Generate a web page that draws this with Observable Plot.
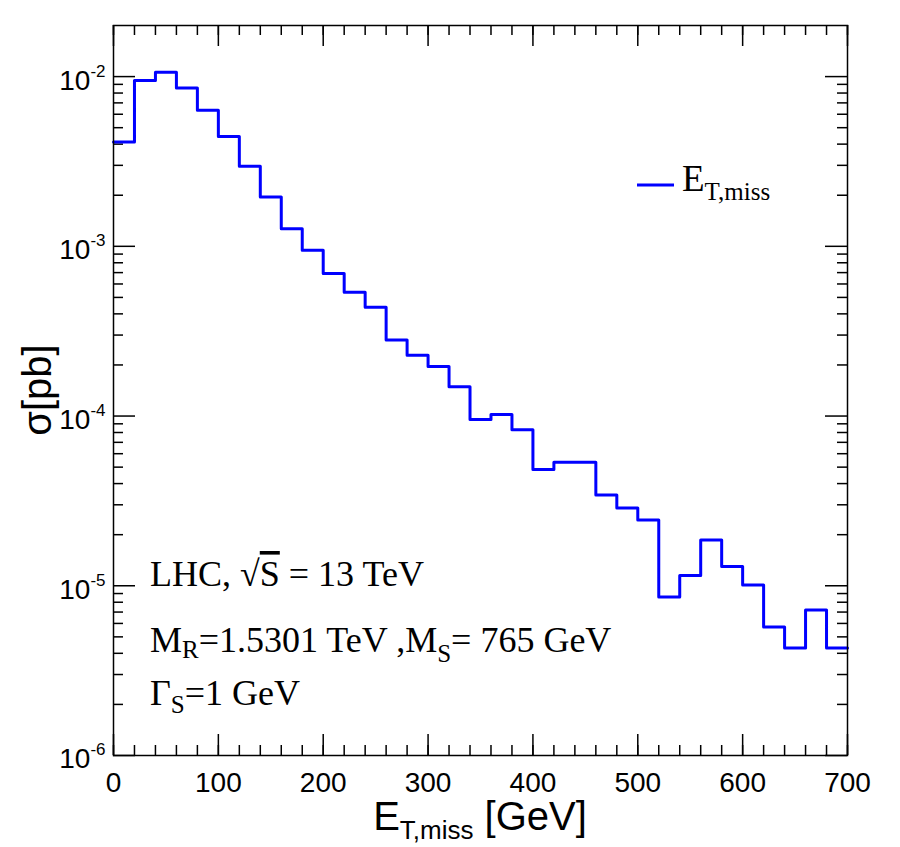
<!DOCTYPE html>
<html>
<head>
<meta charset="utf-8">
<script src="https://cdn.jsdelivr.net/npm/d3@7"></script>
<script src="https://cdn.jsdelivr.net/npm/@observablehq/plot@0.6"></script>
<style>
  html, body { margin: 0; padding: 0; background: white; }
  #chart { width: 900px; height: 847px; }
</style>
</head>
<body>
<div id="chart"></div>
<script>
// Bin lower edges (GeV), bin width 20 GeV
const binLow = [0, 20, 40, 60, 80, 100, 120, 140, 160, 180, 200, 220, 240, 260, 280, 300, 320, 340,
  360, 380, 400, 420, 440, 460, 480, 500, 520, 540, 560, 580, 600, 620, 640, 660, 680];
const binHigh = 700;
// sigma [pb] per bin
const sigma = [4.12e-3, 9.47e-3, 1.06e-2, 8.57e-3, 6.34e-3, 4.43e-3, 2.96e-3, 1.95e-3, 1.27e-3, 9.48e-4,
  6.92e-4, 5.37e-4, 4.38e-4, 2.81e-4, 2.28e-4, 1.96e-4, 1.49e-4, 9.55e-5, 1.02e-4, 8.3e-5,
  4.85e-5, 5.35e-5, 5.35e-5, 3.43e-5, 2.87e-5, 2.44e-5, 8.59e-6, 1.15e-5, 1.86e-5, 1.30e-5,
  1.01e-5, 5.71e-6, 4.30e-6, 7.19e-6, 4.30e-6];

const xTickLabels = [0, 100, 200, 300, 400, 500, 600, 700];
const xMinorTicks = [0, 20, 40, 60, 80, 100, 120, 140, 160, 180, 200, 220, 240, 260, 280, 300, 320, 340,
  360, 380, 400, 420, 440, 460, 480, 500, 520, 540, 560, 580, 600, 620, 640, 660, 680, 700];
const yTickLabels = [1e-6, 1e-5, 1e-4, 1e-3, 1e-2];
const yExponents = [-6, -5, -4, -3, -2];
const minorMult = [2, 3, 4, 5, 6, 7, 8, 9];
const yMinorTicks = yTickLabels.flatMap(d => minorMult.map(m => d * m)).filter(v => v < 0.0199);

// step points: each bin low edge + final high edge
const steps = binLow.map((x, i) => ({x, y: sigma[i]}));
steps.push({x: binHigh, y: sigma[sigma.length - 1]});

const W = 900, H = 847;
const mL = 113, mR = 53, mT = 25, mB = 92;
const innerW = W - mL - mR, innerH = H - mT - mB;
const majLen = 21, minLen = 10;

const expOf = new Map(yTickLabels.map((d, i) => [d, yExponents[i]]));

const plot = Plot.plot({
  width: W, height: H,
  marginLeft: mL, marginRight: mR, marginTop: mT, marginBottom: mB,
  style: {fontFamily: "'Liberation Sans', Arimo, Helvetica, Arial, sans-serif", fontSize: "28px", background: "white", color: "black", overflow: "visible"},
  x: {domain: [0, 700], label: null},
  y: {type: "log", domain: [1e-6, 0.02], label: null},
  marks: [
    // bottom & top ticks
    Plot.tickX(xTickLabels, {x: d => d, insetTop: innerH - majLen, stroke: "black", strokeWidth: 1.5}),
    Plot.tickX(xMinorTicks, {x: d => d, insetTop: innerH - minLen, stroke: "black", strokeWidth: 1.5}),
    Plot.tickX(xTickLabels, {x: d => d, insetBottom: innerH - majLen, stroke: "black", strokeWidth: 1.5}),
    Plot.tickX(xMinorTicks, {x: d => d, insetBottom: innerH - minLen, stroke: "black", strokeWidth: 1.5}),
    // left & right ticks
    Plot.tickY(yTickLabels, {y: d => d, insetRight: innerW - majLen - 1, stroke: "black", strokeWidth: 1.5}),
    Plot.tickY(yMinorTicks, {y: d => d, insetRight: innerW - minLen, stroke: "black", strokeWidth: 1.5}),
    Plot.tickY(yTickLabels, {y: d => d, insetLeft: innerW - majLen - 1, stroke: "black", strokeWidth: 1.5}),
    Plot.tickY(yMinorTicks, {y: d => d, insetLeft: innerW - minLen, stroke: "black", strokeWidth: 1.5}),
    Plot.axisX({ticks: xTickLabels, tickSize: 0, tickPadding: 17, tickFormat: d => String(d), fontSize: 28, label: null}),
    Plot.axisY({ticks: yTickLabels, tickSize: 0, tickPadding: 8, dy: 4, tickFormat: d => "10^" + expOf.get(d), fontSize: 28, label: null}),
    Plot.line(steps, {x: "x", y: "y", curve: "step-after", stroke: "#0000ff", strokeWidth: 3}),
    Plot.frame({stroke: "black", strokeWidth: 1.5})
  ]
});

document.getElementById("chart").appendChild(plot);
const svg = d3.select(plot);

// superscripts for y tick labels
svg.selectAll('g[aria-label="y-axis tick label"] text').each(function() {
  const t = d3.select(this);
  const s = t.text();
  const [base, exp] = s.split("^");
  t.text("");
  t.append("tspan").text(base);
  t.append("tspan").attr("font-size", 17).attr("dy", -13).text(exp);
});

const serif = "'Liberation Serif', 'Times New Roman', Times, serif";
const sans = "'Liberation Sans', Arimo, Helvetica, Arial, sans-serif";

// x-axis title
const xt = svg.append("text")
  .attr("x", (mL + W - mR) / 2).attr("y", 830)
  .attr("text-anchor", "middle")
  .attr("font-family", sans).attr("font-size", 40).attr("fill", "black");
xt.append("tspan").text("E");
xt.append("tspan").attr("font-size", 26).attr("dy", 9).text("T,miss");
xt.append("tspan").attr("dy", -9).text(" [GeV]");

// y-axis title
svg.append("text")
  .attr("transform", `translate(51, ${(mT + H - mB) / 2}) rotate(-90)`)
  .attr("text-anchor", "middle")
  .attr("font-family", sans).attr("font-size", 40).attr("fill", "black")
  .text("σ[pb]");

// legend
svg.append("line").attr("x1", 637).attr("x2", 674).attr("y1", 185).attr("y2", 185)
  .attr("stroke", "#0000ff").attr("stroke-width", 3);
const lg = svg.append("text").attr("x", 682).attr("y", 191).attr("text-anchor", "start")
  .attr("font-family", serif).attr("font-size", 37).attr("fill", "black");
lg.append("tspan").text("E");
lg.append("tspan").attr("font-size", 25).attr("dy", 9).text("T,miss");

// annotations
const a1 = svg.append("text").attr("x", 150).attr("y", 586).attr("text-anchor", "start")
  .attr("font-family", serif).attr("font-size", 36).attr("fill", "black");
a1.append("tspan").text("LHC, √");
a1.append("tspan").style("text-decoration", "overline").text("S");
a1.append("tspan").text(" = 13 TeV");

const a2 = svg.append("text").attr("x", 150).attr("y", 652).attr("text-anchor", "start")
  .attr("font-family", serif).attr("font-size", 36).attr("fill", "black");
a2.append("tspan").text("M");
a2.append("tspan").attr("font-size", 25).attr("dy", 6).text("R");
a2.append("tspan").attr("dy", -6).text("=1.5301 TeV ,M");
a2.append("tspan").attr("font-size", 25).attr("dy", 10).text("S");
a2.append("tspan").attr("dy", -10).text("= 765 GeV");

const a3 = svg.append("text").attr("x", 150).attr("y", 705).attr("text-anchor", "start")
  .attr("font-family", serif).attr("font-size", 36).attr("fill", "black");
a3.append("tspan").text("Γ");
a3.append("tspan").attr("font-size", 25).attr("dy", 8).text("S");
a3.append("tspan").attr("dy", -8).text("=1 GeV");
</script>
</body>
</html>
